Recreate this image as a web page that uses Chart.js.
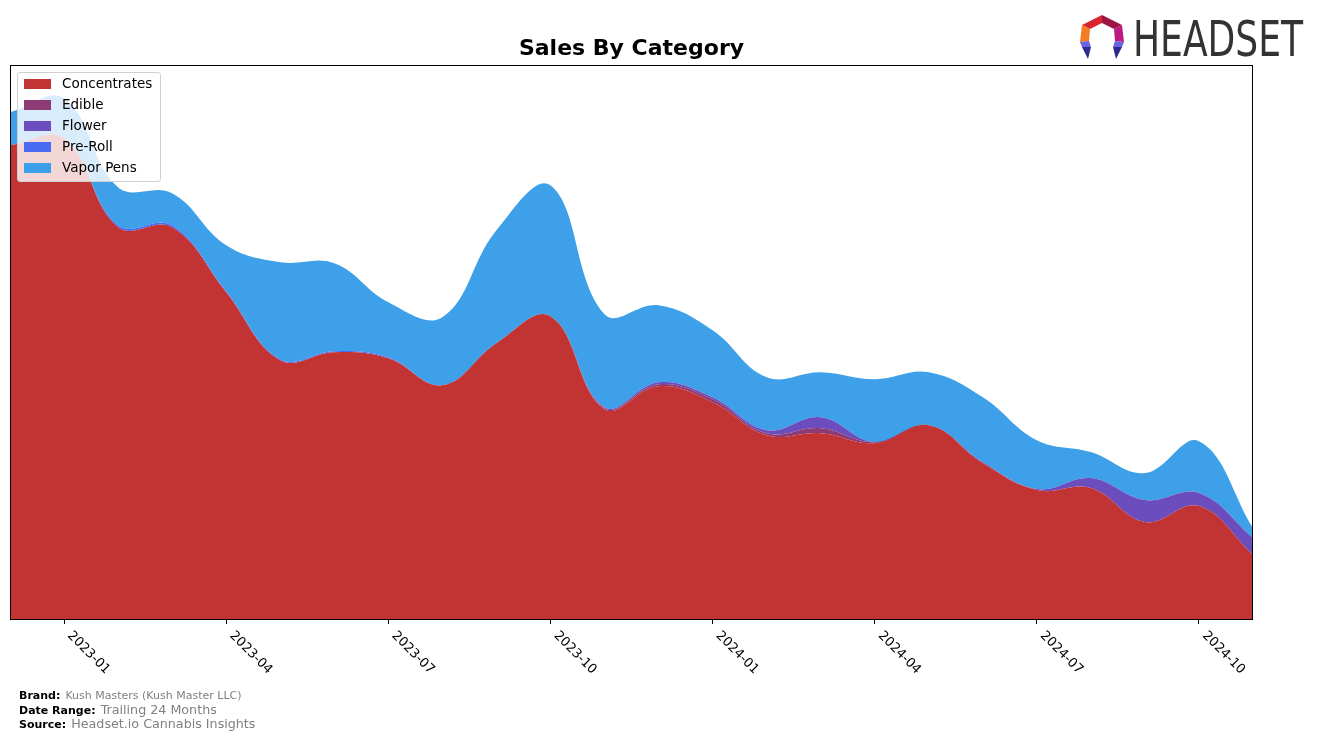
<!DOCTYPE html>
<html>
<head>
<meta charset="utf-8">
<script src="https://cdn.jsdelivr.net/npm/chart.js@4.4.0/dist/chart.umd.min.js"></script>
<style>
  html, body { margin: 0; padding: 0; background: #fff; }
  body { width: 1317px; height: 741px; position: relative; overflow: hidden; font-family: "DejaVu Sans", sans-serif; }
  #chart { position: absolute; left: 0; top: 0; }
  #legend {
    position: absolute; left: 17px; top: 72px; width: 142px; height: 108px;
    background: rgba(255,255,255,0.8); border: 1px solid #d0d0d0; border-radius: 3px;
    padding-top: 0; box-sizing: content-box;
  }
  .item { height: 21px; line-height: 21px; font-size: 13.5px; color: #000; position: relative; white-space: nowrap; }
  .swatch { position: absolute; left: 6px; top: 6px; width: 27px; height: 10px; }
  .item span { position: absolute; left: 44px; }
  .foot { position: absolute; left: 19px; white-space: nowrap; color: #000; }
  .foot b { font-size: 11px; }
  .foot i { font-style: normal; color: #808080; }
  #logo { position: absolute; left: 1078px; top: 12px; }
</style>
</head>
<body>
<canvas id="chart" width="1317" height="741"></canvas>
<div id="legend"></div>

<div class="foot" style="top:684px"><b>Brand:</b> <i style="font-size:11px">Kush Masters (Kush Master LLC)</i></div>
<div class="foot" style="top:699px"><b>Date Range:</b> <i style="font-size:12.7px">Trailing 24 Months</i></div>
<div class="foot" style="top:713px"><b>Source:</b> <i style="font-size:12.7px">Headset.io Cannabis Insights</i></div>

<svg id="logo" width="232" height="52" viewBox="0 0 232 52">
  <polygon points="24,3 4,13 12,17 24,11" fill="#d9262e"/>
  <polygon points="24,3 44,13 36,17 24,11" fill="#9c1444"/>
  <polygon points="44,13 46,30 37,29 36,17" fill="#bd1a80"/>
  <polygon points="4,13 2,30 11,29 12,17" fill="#f47c22"/>
  <polygon points="2,30 11,29 13,35 4,35" fill="#6a62e4"/>
  <polygon points="4,35 13,35 10,47" fill="#2e2b8e"/>
  <polygon points="37,29 46,30 44,35 35,35" fill="#6a62e4"/>
  <polygon points="35,35 44,35 38,47" fill="#2e2b8e"/>
  <text x="55" y="44" font-family="Liberation Sans Narrow, DejaVu Sans Condensed, sans-serif" font-size="50" fill="#333" textLength="170" lengthAdjust="spacingAndGlyphs">HEADSET</text>
</svg>

<script>
const months = ['2022-12','2023-01','2023-02','2023-03','2023-04','2023-05','2023-06','2023-07',
  '2023-08','2023-09','2023-10','2023-11','2023-12','2024-01','2024-02','2024-03','2024-04',
  '2024-05','2024-06','2024-07','2024-08','2024-09','2024-10','2024-11'];
const tickMonths = ['2023-01','2023-04','2023-07','2023-10','2024-01','2024-04','2024-07','2024-10'];

const concentrates = [474, 481, 392, 392, 327, 259, 267, 261, 234, 276, 303, 210, 233, 217, 184, 186, 176, 194, 156, 129, 131, 97, 113, 64];
const edible       = [0, 0, 0, 0, 0, 0, 0, 0, 0, 0, 0, 1, 2, 3, 2, 5, 1, 0, 0, 0, 0, 0, 0, 0];
const flower       = [0, 0, 0, 0, 0, 0, 0, 0, 0, 0, 0, 1, 2, 2, 3, 11, 0, 0, 1, 1, 10, 22, 13, 17];
const preRoll      = [0, 0, 2, 2, 1, 1, 1, 1, 0, 0, 0, 0, 0, 0, 0, 0, 0, 0, 0, 0, 0, 0, 0, 0];
const vaporPens    = [33, 40, 38, 32, 46, 97, 88, 55, 68, 113, 131, 93, 77, 67, 53, 45, 63, 53, 65, 49, 26, 27, 52, 10];

const seriesNames  = ['Concentrates', 'Edible', 'Flower', 'Pre-Roll', 'Vapor Pens'];
const seriesData   = [concentrates, edible, flower, preRoll, vaporPens];
const seriesColors = ['#c13433', '#8d3b74', '#6b4dbd', '#4a6bf4', '#3ea0e8'];

const datasets = seriesNames.map((name, i) => ({
  label: name,
  data: seriesData[i].map((v, j) => ({x: j, y: v})),
  backgroundColor: seriesColors[i],
  borderColor: 'rgba(0,0,0,0)',
  borderWidth: 0,
  fill: i === 0 ? 'origin' : '-1',
  pointRadius: 0,
  tension: 0.4
}));

// legend (html, sits inside the plot like the original)
const legend = document.getElementById('legend');
seriesNames.forEach((name, i) => {
  const row = document.createElement('div');
  row.className = 'item';
  row.innerHTML = '<div class="swatch" style="background:' + seriesColors[i] + '"></div><span>' + name + '</span>';
  legend.appendChild(row);
});

const framePlugin = {
  id: 'frame',
  afterDraw(chart) {
    const {ctx, chartArea: a, scales: {x}} = chart;
    ctx.save();
    ctx.strokeStyle = '#000';
    ctx.lineWidth = 1;
    ctx.strokeRect(Math.round(a.left) + 0.5, Math.round(a.top) + 0.5, Math.round(a.width) - 1, Math.round(a.height));
    // rotated tick labels, reading down-right from each tick
    ctx.fillStyle = '#000';
    ctx.font = '13px "DejaVu Sans"';
    ctx.textAlign = 'left';
    ctx.textBaseline = 'top';
    tickMonths.forEach(m => {
      const px = x.getPixelForValue(months.indexOf(m));
      ctx.save();
      ctx.translate(px + 10, a.bottom + 10);
      ctx.rotate(Math.PI / 4);
      ctx.fillText(m, 0, 0);
      ctx.restore();
    });
    ctx.restore();
  }
};

new Chart(document.getElementById('chart'), {
  type: 'line',
  data: { datasets },
  options: {
    responsive: false,
    animation: false,
    layout: { padding: { left: 10, right: 64, top: 0, bottom: 0 } },
    plugins: {
      legend: { display: false },
      tooltip: { enabled: false },
      title: {
        display: true,
        text: 'Sales By Category',
        color: '#000',
        font: { family: 'DejaVu Sans', size: 22, weight: 'bold' },
        padding: { top: 36, bottom: 3 }
      }
    },
    scales: {
      x: {
        type: 'linear',
        min: 0,
        max: months.length - 1,
        afterBuildTicks: scale => { scale.ticks = tickMonths.map(m => ({ value: months.indexOf(m) })); },
        afterFit: scale => { scale.height = 122; },
        ticks: { display: false },
        grid: { drawOnChartArea: false, drawTicks: true, tickLength: 5, color: '#000', tickColor: '#000' },
        border: { display: false }
      },
      y: {
        stacked: true,
        display: false,
        min: 0,
        max: 554
      }
    }
  },
  plugins: [framePlugin]
});
</script>
</body>
</html>
